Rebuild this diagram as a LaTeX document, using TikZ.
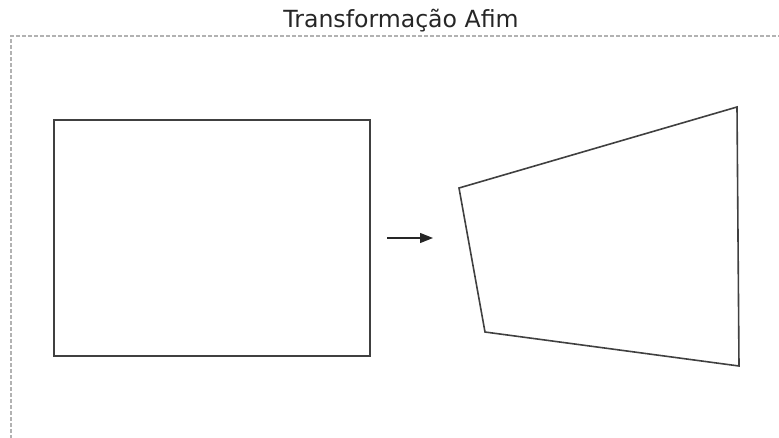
\documentclass[tikz,border=0pt]{standalone}
\usepackage{fontspec}
\setmainfont{DejaVu Sans}
\usetikzlibrary{arrows.meta}
\begin{document}
\begin{tikzpicture}[x=1pt,y=-1pt,
  frame/.style={draw=black!30, line width=1.5pt, dash pattern=on 4pt off 2pt},
  shapeline/.style={draw=black!75, line width=1.6pt, line join=miter},
  arr/.style={draw=black!85, line width=1.3pt, -{Triangle[length=13pt,width=10pt]}},
  titletext/.style={font=\fontsize{23.6}{26}\selectfont, text=black!85, inner sep=0pt, anchor=base}]
\useasboundingbox (0,0) rectangle (779,437);
% dashed frame
\coordinate (f1) at (11,445);
\coordinate (f2) at (11,36);
\coordinate (f3) at (790,36);
\draw[frame] (f1) -- (f2) -- (f3);
% title
\node[titletext] (title) at (401,27) {Transformação Afim};
% rectangle
\node[shapeline, draw, minimum width=316pt, minimum height=236pt, inner sep=0pt, anchor=north west] (rect) at (53,119) {};
% arrow
\coordinate (a1) at (387,238);
\coordinate (a2) at (433,238);
\draw[arr] (a1) -- (a2);
% quadrilateral
\coordinate (q1) at (459,188);
\coordinate (q2) at (737,107);
\coordinate (q3) at (739,366);
\coordinate (q4) at (485,332);
\draw[shapeline] (q1) -- (q2) -- (q3) -- (q4) -- cycle;
\end{tikzpicture}
\end{document}
